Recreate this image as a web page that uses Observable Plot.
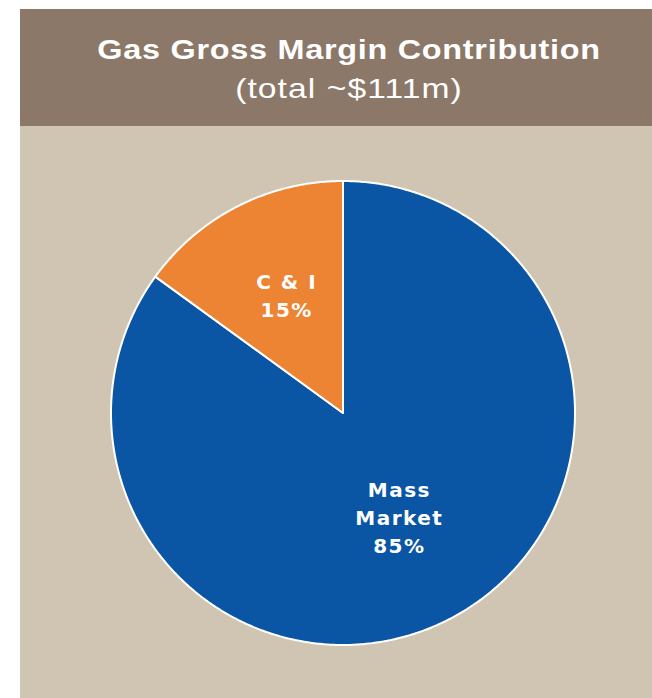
<!DOCTYPE html>
<html>
<head>
<meta charset="utf-8">
<script src="https://cdn.jsdelivr.net/npm/d3@7"></script>
<script src="https://cdn.jsdelivr.net/npm/@observablehq/plot@0.6"></script>
<style>
  html, body { margin: 0; padding: 0; background: #ffffff; }
  #page { position: relative; width: 652px; height: 698px; overflow: hidden; }
  #header { position: absolute; left: 20px; top: 9px; width: 632px; height: 117px; background: #8B7868; }
  .htext { position: absolute; left: 349px; transform: translateX(-50%) scaleX(1.2); white-space: nowrap; color: #ffffff; font-family: "Liberation Sans", Arial, sans-serif; }
  #title { top: 36px; font-size: 27px; line-height: 28px; font-weight: bold; letter-spacing: 0.6px; }
  #subtitle { top: 75px; font-size: 28px; line-height: 28px; font-weight: normal; letter-spacing: 0.9px; }
  #chart { position: absolute; left: 20px; top: 126px; width: 632px; height: 572px; background: #D0C5B3; }
  #chart svg text { letter-spacing: 1.5px; }
</style>
</head>
<body>
<div id="page">
  <div id="header"></div>
  <div id="title" class="htext">Gas Gross Margin Contribution</div>
  <div id="subtitle" class="htext">(total ~$111m)</div>
  <div id="chart"></div>
</div>
<script>
const categories = ["Mass Market", "C & I"];
const shares = [85, 15];
const sliceLabels = ["Mass\nMarket\n85%", "C & I\n15%"];
const sliceColors = ["#0A56A4", "#ED8433"];

const W = 632, H = 572;
const cx = 322.5, cy = 286.5, R = 232;

const rows = categories.map((c, i) => ({category: c, share: shares[i], label: sliceLabels[i]}));
const arcs = d3.pie().sort(null).value(d => d.share)(rows);

// slice outlines (centre -> arc -> centre), angles clockwise from 12 o'clock
const outline = [];
for (const a of arcs) {
  const c = a.data.category;
  outline.push({category: c, x: 0, y: 0});
  const n = Math.max(2, Math.ceil((a.endAngle - a.startAngle) / (Math.PI / 360)));
  for (let k = 0; k <= n; k++) {
    const t = a.startAngle + (a.endAngle - a.startAngle) * k / n;
    outline.push({category: c, x: Math.sin(t), y: Math.cos(t)});
  }
  outline.push({category: c, x: 0, y: 0});
}

const labelPts = arcs.map(a => {
  const m = (a.startAngle + a.endAngle) / 2;
  return {category: a.data.category, label: a.data.label, x: 0.535 * Math.sin(m), y: 0.535 * Math.cos(m)};
});

const chart = Plot.plot({
  width: W,
  height: H,
  margin: 0,
  style: {background: "transparent", overflow: "visible"},
  x: {axis: null, domain: [-cx / R, (W - cx) / R]},
  y: {axis: null, domain: [(cy - H) / R, cy / R]},
  color: {domain: categories, range: sliceColors},
  marks: [
    Plot.line(outline, {x: "x", y: "y", z: "category", fill: "category", stroke: "#ffffff", strokeWidth: 2, strokeLinejoin: "round", curve: "linear"}),
    Plot.text(labelPts, {x: "x", y: "y", text: "label", fill: "#ffffff", fontSize: 20, fontWeight: "bold", fontFamily: "DejaVu Sans, Verdana, sans-serif", lineHeight: 1.4, dy: -8})
  ]
});
document.getElementById("chart").appendChild(chart);
</script>
</body>
</html>
